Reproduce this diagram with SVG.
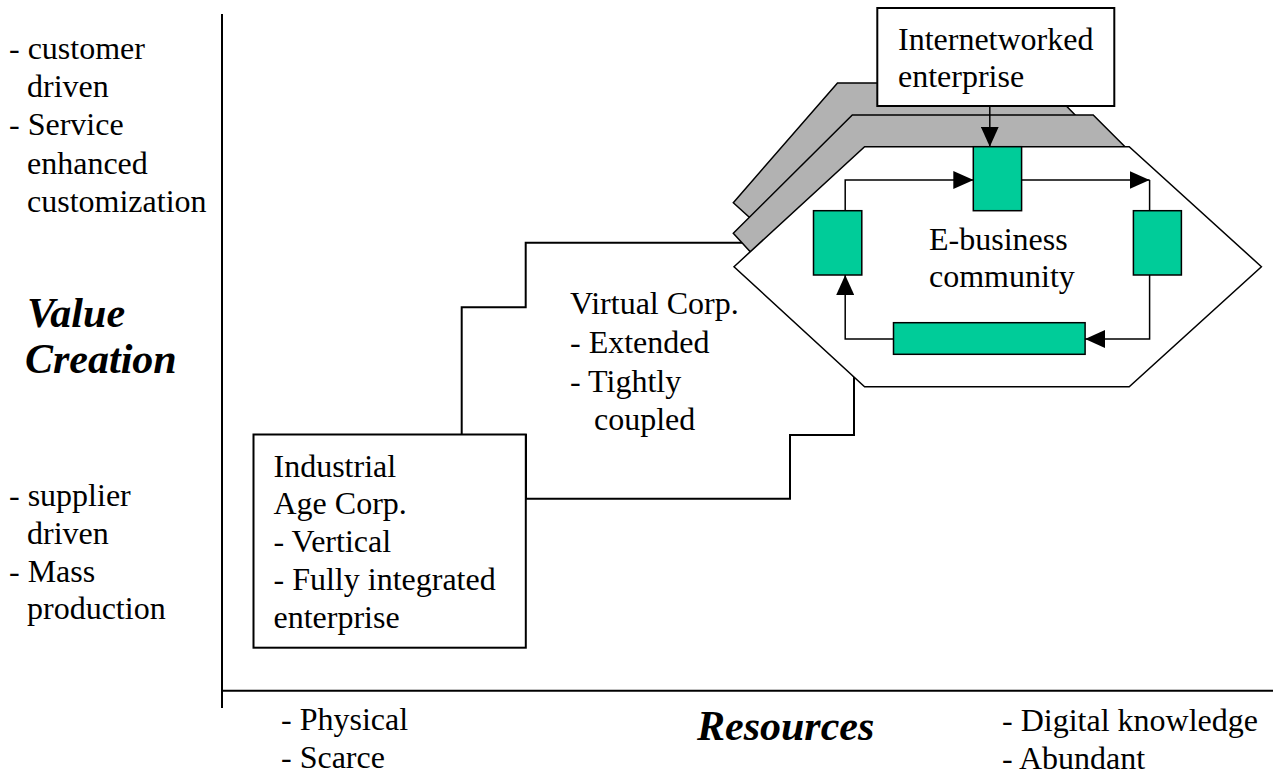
<svg xmlns="http://www.w3.org/2000/svg" width="1273" height="775" viewBox="0 0 1273 775">
<style>
  text { font-family: "Liberation Serif", "DejaVu Serif", serif; font-size: 32px; fill: #000; }
  .big { font-size: 42px; font-weight: bold; font-style: italic; }
  .shape { fill: #fff; stroke: #000; stroke-width: 2; }
  .gray { fill: #b2b2b2; stroke: #000; stroke-width: 1.5; }
  .hex { fill: #fff; stroke: #000; stroke-width: 1.5; }
  .green { fill: #00cc99; stroke: #000; stroke-width: 1.5; }
  .axis { stroke: #000; stroke-width: 2; fill: none; }
  .conn { stroke: #000; stroke-width: 1.5; fill: none; }
</style>
<defs>
  <marker id="arrow" markerUnits="userSpaceOnUse" markerWidth="20" markerHeight="18" refX="20" refY="9" orient="auto">
    <path d="M0,0 L20,9 L0,18 Z" fill="#000"/>
  </marker>
</defs>
<rect width="1273" height="775" fill="#fff"/>

<g id="axes">
  <line class="axis" x1="222" y1="14" x2="222" y2="708"/>
  <line class="axis" x1="222" y1="690.7" x2="1273" y2="690.7"/>
</g>

<g id="left-labels">
  <text x="9" y="59">- customer</text>
  <text x="27" y="97">driven</text>
  <text x="9" y="135">- Service</text>
  <text x="27" y="174">enhanced</text>
  <text x="27" y="212">customization</text>
  <text class="big" x="27" y="327">Value</text>
  <text class="big" x="25" y="373">Creation</text>
  <text x="9" y="506">- supplier</text>
  <text x="27" y="544">driven</text>
  <text x="9" y="582">- Mass</text>
  <text x="27" y="619">production</text>
</g>

<g id="bottom-labels">
  <text x="281" y="730">- Physical</text>
  <text x="281" y="768">- Scarce</text>
  <text class="big" x="697" y="740">Resources</text>
  <text x="1002" y="731">- Digital knowledge</text>
  <text x="1002" y="769">- Abundant</text>
</g>

<g id="virtual-corp">
  <polygon class="shape" points="461.7,435 461.7,307.3 525.7,307.3 525.7,242.7 800,242.7 854,376.9 854,435 790,435 790,498.7 526,498.7 526,435"/>
  <text x="570" y="314">Virtual Corp.</text>
  <text x="570" y="353">- Extended</text>
  <text x="570" y="392">- Tightly</text>
  <text x="594" y="430">coupled</text>
</g>

<g id="industrial-corp">
  <rect class="shape" x="253.5" y="434.5" width="272.3" height="213.2"/>
  <text x="273.5" y="477">Industrial</text>
  <text x="273.5" y="514">Age Corp.</text>
  <text x="273.5" y="552">- Vertical</text>
  <text x="273.5" y="590">- Fully integrated</text>
  <text x="273.5" y="628">enterprise</text>
</g>

<g id="ebusiness-community">
  <polygon class="gray" points="733.3,202.7 837.5,83 1044,83 1080,120 900,200 749.3,217.3"/>
  <polygon class="gray" points="733.3,233.3 852.3,115 1093.2,115 1125,146.7 900,250 750,251.4"/>
  <polygon class="hex" points="734,266.7 864.6,146.7 1129.2,146.7 1261.4,266.7 1129.2,386.7 864.6,386.7"/>
  <text x="929" y="250">E-business</text>
  <text x="929" y="287">community</text>
</g>

<g id="internetworked-enterprise">
  <rect class="shape" x="877.3" y="8" width="237" height="98"/>
  <text x="898" y="50">Internetworked</text>
  <text x="898" y="87">enterprise</text>
</g>

<g id="node-top"><rect class="green" x="973.3" y="146.7" width="48.3" height="64"/></g>
<g id="node-left"><rect class="green" x="813.5" y="210.7" width="48.3" height="64.3"/></g>
<g id="node-right"><rect class="green" x="1133.4" y="210.7" width="48" height="64.3"/></g>
<g id="node-bottom"><rect class="green" x="893.5" y="322.7" width="191.6" height="31.6"/></g>

<g id="connectors">
  <line class="conn" x1="989.8" y1="106" x2="989.8" y2="146.7" marker-end="url(#arrow)"/>
  <path class="conn" d="M845.2,210.7 V180 H973.3" marker-end="url(#arrow)"/>
  <path class="conn" d="M1021.6,180 H1149.6" marker-end="url(#arrow)"/>
  <path class="conn" d="M1149.6,180 V210.7"/>
  <path class="conn" d="M1149.6,275 V339 H1085.1" marker-end="url(#arrow)"/>
  <path class="conn" d="M893.5,339 H845.2 V275" marker-end="url(#arrow)"/>
</g>
</svg>
